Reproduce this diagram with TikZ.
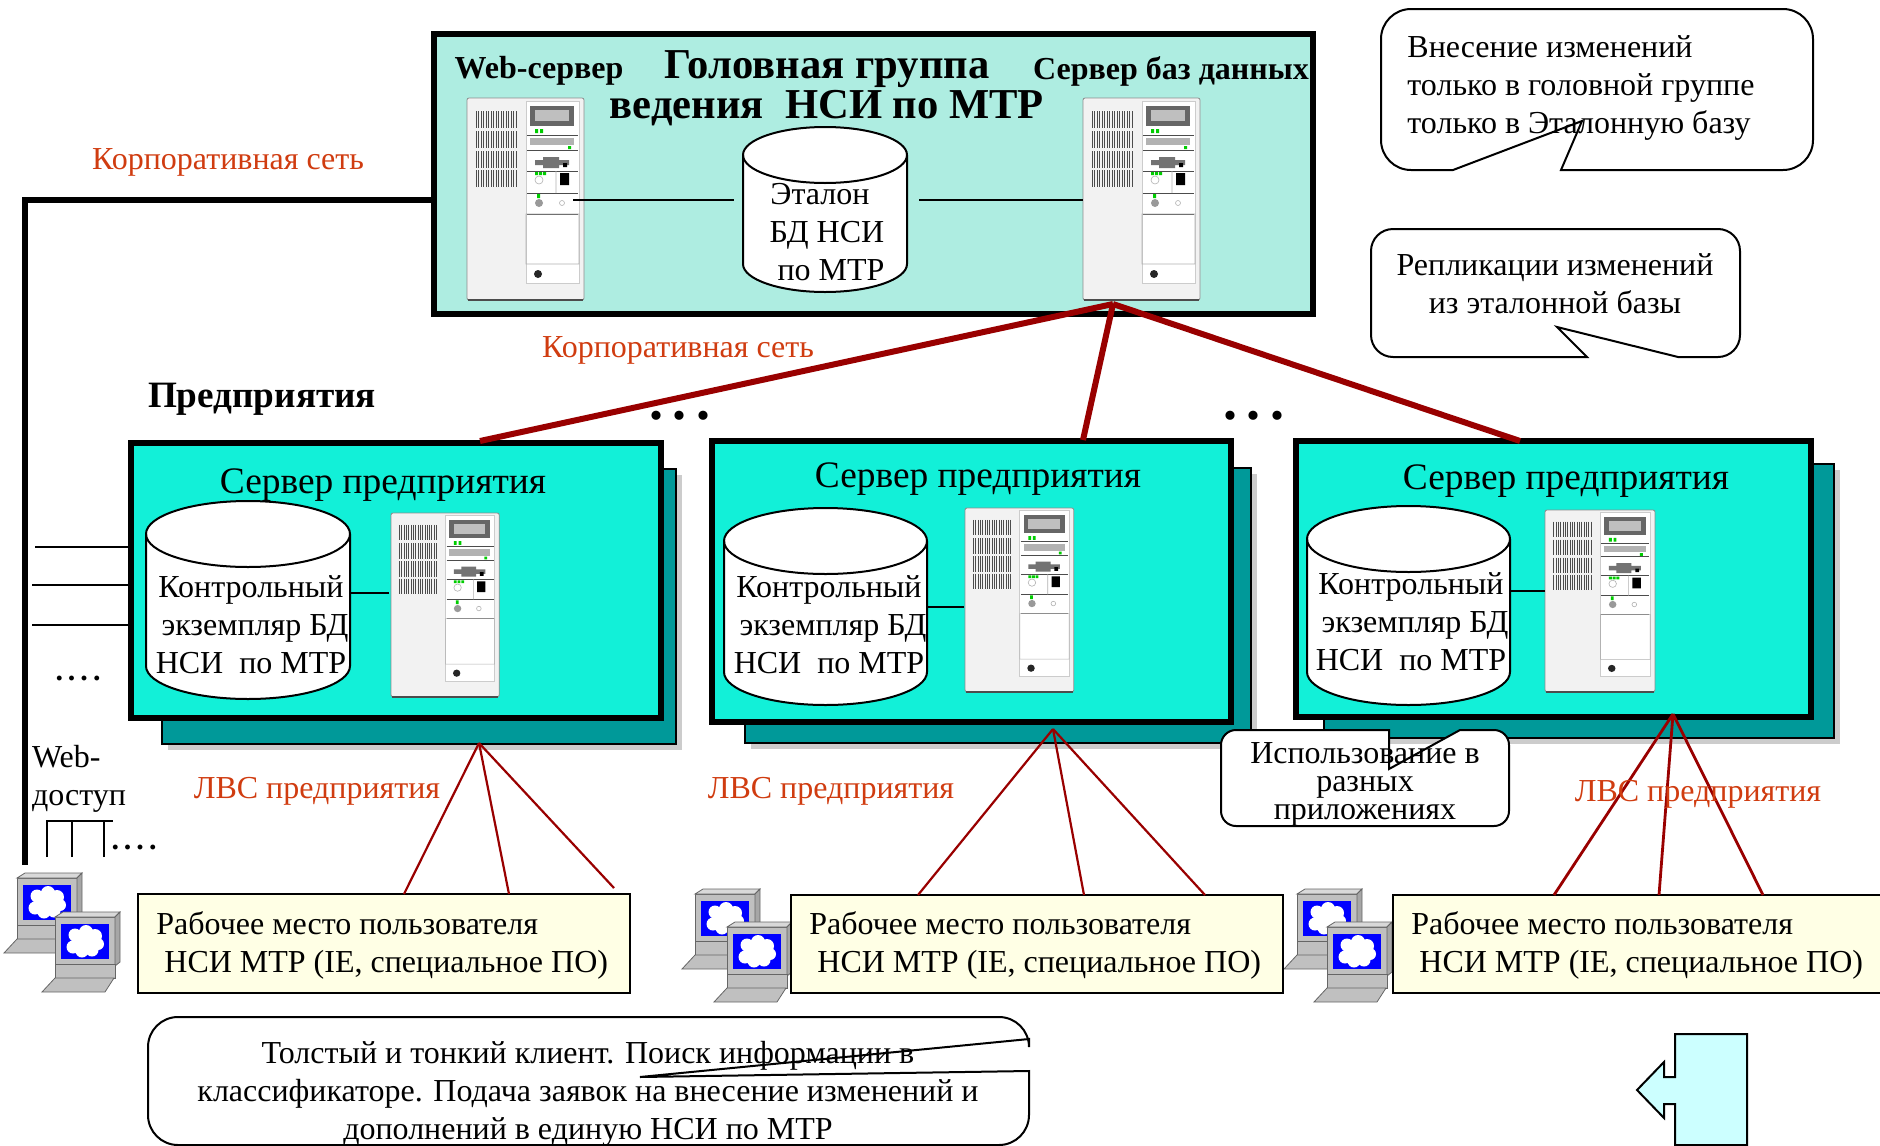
\documentclass[tikz,border=0pt]{standalone}
\usepackage{fontspec}
\setmainfont{Liberation Serif}
\usetikzlibrary{shadows}
\definecolor{headfill}{RGB}{174,237,225}
\definecolor{sitefill}{RGB}{18,240,216}
\definecolor{sitedark}{RGB}{0,153,153}
\definecolor{userfill}{RGB}{255,255,229}
\definecolor{netred}{RGB}{153,0,0}
\definecolor{labelred}{RGB}{208,60,16}
\definecolor{arrowfill}{RGB}{204,255,255}
\definecolor{pcgray}{RGB}{192,192,192}
\tikzset{%
    txt/.style={inner sep=0pt,align=center,font=\fontsize{16}{19}\selectfont},
    netlabel/.style={txt,text=labelred},
    headtxt/.style={txt,font=\fontsize{16}{18}\bfseries\selectfont},
    dotstxt/.style={txt,font=\fontsize{28}{28}\bfseries\selectfont},
    sitebox/.style={draw=black,line width=2.8pt,fill=sitefill,inner sep=0pt,outer sep=0pt},
    backbox/.style={draw=black,line width=1pt,fill=sitedark,inner sep=0pt,outer sep=0pt,
        drop shadow={opacity=.4,shadow xshift=3pt,shadow yshift=-3pt}},
    userbox/.style={draw=black,line width=1.3pt,fill=userfill,inner sep=0pt,outer sep=0pt},
    bubble/.style={draw=black,line width=1pt},
    wire/.style={line width=1pt},
    trunk/.style={netred,line width=3pt},
    lan/.style={netred,line width=1.1pt}
}
% database drum: name, centre x, top y, bottom y, half width, end height
\newcommand{\drum}[6]{%
  \node[inner sep=0pt,outer sep=0pt,minimum width=#5pt,minimum height={(#4-#3)*.5pt}] (#1) at (#2,{(#3+#4)/2}) {};
  \draw[line width=1pt,fill=white] ({#2-#5},{#4-#6}) arc[start angle=180,end angle=360,x radius=#5*.5pt,y radius=#6*.5pt]
    -- ({#2+#5},{#3+#6}) arc[start angle=0,end angle=180,x radius=#5*.5pt,y radius=#6*.5pt] -- cycle;
  \draw[line width=1pt] ({#2-#5},{#3+#6}) arc[start angle=180,end angle=360,x radius=#5*.5pt,y radius=#6*.5pt];}
% rack server: x,y of top left corner, xscale, yscale
\newcommand{\rack}[3]{%
  \begin{scope}[shift={(#1)},xscale=#2,yscale=#3]
    \draw[black!45,line width=.4pt,fill=black!5,rounded corners=1pt] (0,0) rectangle (117,202);
    \draw[black!70,line width=1pt] (1,202)--(116,202);
    \foreach \ya/\yb in {13/30,33/50,53/70,72/89}
      \foreach \xv in {9,11.5,...,50}
        \draw[black!70,line width=.25pt] (\xv,\ya)--(\xv,\yb);
    \draw[black!20,line width=.5pt,fill=white] (59,3) rectangle (112,185);
    \fill[black!60] (63,8) rectangle (107,28);
    \fill[black!25] (68,12) rectangle (102,23);
    \fill[green!80!black] (68,31) rectangle (71,35) (73,31) rectangle (76,35) (101,48) rectangle (104,51)
      (68,74) rectangle (71,77) (72,74) rectangle (75,77) (76,74) rectangle (79,77) (70,96) rectangle (73,100);
    \foreach \ys in {37,52,73,95,116}
      \draw[black!70,line width=.5pt] (60,\ys)--(111,\ys);
    \fill[black!30] (63,40) rectangle (107,47);
    \fill[black!55] (68,62) rectangle (102,67) (76,59) rectangle (92,70);
    \fill[black] (93,75) rectangle (102,87) (96,65) rectangle (100,69);
    \draw[black!30,line width=.3pt] (72,82) circle (4) (89,73)--(89,95) (59,116) rectangle (112,166) (95,105) circle (2.5);
    \fill[black!40] (72,105) circle (4);
    \fill[black!85] (71,176) circle (4);
  \end{scope}}
% one workstation: x,y of top left corner
\newcommand{\pcunit}[1]{%
  \begin{scope}[shift={(#1)}]
    \draw[black!60,line width=.4pt,fill=pcgray] (13,5) rectangle (73,54);
    \draw[black!60,line width=.4pt,fill=black!15] (13,5)--(21,0)--(78,0)--(73,5)--cycle;
    \draw[black!60,line width=.4pt,fill=black!35] (73,5)--(78,0)--(78,50)--(73,54)--cycle;
    \fill[blue] (19,12) rectangle (67,47);
    \fill[white] (33,23) circle (6.5) (44,20) circle (7) (53,24) circle (7) (56,32) circle (6)
       (50,38) circle (6.5) (40,39) circle (6.5) (31,35) circle (6.5) (43,30) circle (10);
    \draw[black!60,line width=.4pt,fill=pcgray] (13,52) rectangle (73,66);
    \draw[black!60,line width=.4pt,fill=pcgray] (0,80)--(13,66)--(72,66)--(63,80)--cycle;
  \end{scope}}
\begin{document}
\begin{tikzpicture}[x=0.5pt,y=-0.5pt]
    \useasboundingbox (0,0) rectangle (1880,1146);
    % corporate network
    \node[draw=black,line width=2.8pt,fill=headfill,inner sep=0pt,outer sep=0pt,minimum width=439.5pt,minimum height=140pt] (head) at (873.5,174) {};
    \coordinate (webend) at (25,865);
    \coordinate (dbport) at (1083,200);
    \coordinate (webport) at (573,200);
    \draw[line width=3pt] (dbport-|head.west) -| (webend);
    \node[txt,font=\fontsize{21.3}{21}\bfseries\selectfont] (title) at (827,88) {Головная группа\\[-1pt]ведения\ \ НСИ по МТР};
    \node[headtxt] (webname) at (539,71) {Web-сервер};
    \node[headtxt] (dbname) at (1171,71) {Сервер баз данных};
    \rack{467,98}{1}{1}
    \rack{1083,98}{1}{1}
    \drum{etalon}{825}{127}{292}{82}{28}
    \node[txt] (etalontxt) at (827,232.5) {Эталон\hspace*{7pt}\\БД НСИ\\\ по МТР};
    \coordinate (etaL) at (734,200);
    \coordinate (etaR) at (919,200);
    \draw[wire] (webport)--(etaL);
    \draw[wire] (etaR)--(dbport);
    \node[netlabel] (corp1) at (228,162) {Корпоративная сеть};
    \node[netlabel] (corp2) at (678,350) {Корпоративная сеть};
    \node[headtxt,font=\fontsize{18.6}{20}\bfseries\selectfont] (plants) at (262,399) {Предприятия};
    % three plants
    \node[backbox,minimum width=257pt,minimum height=137.5pt] (backA) at (419,606.5) {};
    \node[sitebox,minimum width=265pt,minimum height=137.5pt] (siteA) at (396,580.5) {};
    \node[backbox,minimum width=253pt,minimum height=137.5pt] (backB) at (998,605.5) {};
    \node[sitebox,minimum width=259.5pt,minimum height=140.5pt] (siteB) at (971.5,581.5) {};
    \node[backbox,minimum width=255pt,minimum height=137pt] (backC) at (1579,601) {};
    \node[sitebox,minimum width=257.5pt,minimum height=138pt] (siteC) at (1553.5,579) {};
    \foreach \sx/\sy/\nm in {383/485.5/A,978/479.5/B,1566/481.5/C}
      \node[txt,font=\fontsize{18.7}{20}\selectfont] (srv\nm) at (\sx,\sy) {Сервер предприятия};
    \drum{drumA}{248}{501}{699}{102}{33}
    \drum{drumB}{825.5}{508}{705}{101.5}{33}
    \drum{drumC}{1408.5}{506}{705}{101.5}{33}
    \rack{391,513}{.925}{.91}
    \rack{965,508}{.93}{.91}
    \rack{1545,510}{.94}{.9}
    \coordinate (tapA) at (389,593);
    \coordinate (tapB) at (964,607);
    \coordinate (tapC) at (1545,591);
    \draw[wire] (tapA)--(tapA-|drumA.east);
    \draw[wire] (tapB)--(tapB-|drumB.east);
    \draw[wire] (tapC)--(tapC-|drumC.east);
    \foreach \tx/\ty/\nm in {251/625/A,829/625/B,1411/622/C}
      \node[txt] (ctl\nm) at (\tx,\ty) {Контрольный\\\ экземпляр БД\\НСИ\ \ по МТР};
    % backbone
    \coordinate (hub) at (1113,304);
    \coordinate (topA) at (480,441);
    \coordinate (topB) at (1083,440);
    \coordinate (topC) at (1520,441);
    \draw[trunk] (hub)--(topA);
    \draw[trunk] (hub)--(topB);
    \draw[trunk] (hub)--(topC);
    \node[dotstxt] (moreA) at (680,416) {.\,.\,.};
    \node[dotstxt] (moreB) at (1254,416) {.\,.\,.};
    % web access
    \coordinate (stubA) at (35,547);
    \coordinate (stubB) at (32,585);
    \coordinate (stubC) at (32,625);
    \draw[wire] (stubA)--(stubA-|siteA.west);
    \draw[wire] (stubB)--(stubB-|siteA.west);
    \draw[wire] (stubC)--(stubC-|siteA.west);
    \node[txt,font=\fontsize{15}{19}\bfseries\selectfont] (moreC) at (78,678) {.\,.\,.\,.};
    \node[txt,align=left] (webacc) at (79,779) {Web-\\доступ};
    \coordinate (combA) at (47,821);
    \coordinate (combB) at (72,857);
    \coordinate (combC) at (104,857);
    \coordinate (combD) at (113,821);
    \coordinate (combE) at (47,857);
    \draw[wire] (combE)--(combA)--(combD);
    \draw[wire] (combB)--(combB|-combA);
    \draw[wire] (combC)--(combC|-combA);
    \node[txt,font=\fontsize{15}{19}\bfseries\selectfont] (moreD) at (134,847) {.\,.\,.\,.};
    % workplaces
    \foreach \px/\qx/\py/\qy in {4/42/873/912,682/714/889/922,1284/1314/889/922}{
      \pcunit{\px,\py}
      \pcunit{\qx,\qy}
    }
    \node[userbox,minimum width=246pt,minimum height=49.5pt] (userA) at (384,943.5) {};
    \node[userbox,minimum width=246pt,minimum height=49pt] (userB) at (1037,944) {};
    \node[userbox,minimum width=250pt,minimum height=49pt] (userC) at (1643,944) {};
    \foreach \ux/\nm in {156/A,809/B,1411/C}
      \node[txt,align=left,anchor=west] (ws\nm) at (\ux,945) {Рабочее место пользователя\\\ НСИ МТР (IE, специальное ПО)};
    \coordinate (lanA) at (479,743);
    \coordinate (lanAx) at (614,888);
    \coordinate (lanB) at (1053,729);
    \coordinate (lanC) at (1673,714);
    \draw[lan] (lanA)--(404,894|-userA.north);
    \draw[lan] (lanA)--(509,894|-userA.north);
    \draw[lan] (lanA)--(lanAx);
    \draw[lan] (lanB)--(918,895|-userB.north);
    \draw[lan] (lanB)--(1084,895|-userB.north);
    \draw[lan] (lanB)--(1205,895|-userB.north);
    \draw[lan,line width=1.4pt] (lanC)--(1554,895|-userC.north);
    \draw[lan,line width=1.4pt] (lanC)--(1659,895|-userC.north);
    \draw[lan,line width=1.4pt] (lanC)--(1763,895|-userC.north);
    \node[netlabel] (lblA) at (317,791) {ЛВС предприятия};
    \node[netlabel] (lblB) at (831,791) {ЛВС предприятия};
    \node[netlabel] (lblC) at (1698,794) {ЛВС предприятия};
    % callouts
    \draw[bubble] (1453,170) [rounded corners=15pt] -- (1381,170) -- (1381,9) -- (1813,9) -- (1813,170) [sharp corners] -- (1561,170) -- (1582,121) -- cycle;
    \node[txt,align=left,anchor=west] (noteA) at (1407,88) {Внесение изменений\\только в головной группе\\только в Эталонную базу};
    \draw[bubble] (1587,357) [rounded corners=11pt] -- (1371,357) -- (1371,229) -- (1740,229) -- (1740,357) [sharp corners] -- (1678,357) -- (1557,327) -- cycle;
    \node[txt] (noteB) at (1555,284) {Репликации изменений\\из эталонной базы};
    \draw[bubble,fill=white] (1389,730) [rounded corners=7.5pt] -- (1221,730) -- (1221,826) -- (1509,826) -- (1509,730) [sharp corners] -- (1460,730) -- (1389,769) -- cycle;
    \node[txt,font=\fontsize{16}{14}\selectfont] (noteC) at (1365,784) {Использование в\\разных\\приложениях};
    \draw[bubble] (1029,1039) [rounded corners=15pt] -- (1029,1017) -- (148,1017) -- (148,1145) -- (1029,1145) [sharp corners] -- (1029,1071) -- (640,1077) -- cycle;
    \node[txt] (noteD) at (588,1094) {Толстый и тонкий клиент. Поиск информации в\\классификаторе. Подача заявок на внесение изменений и\\дополнений в единую НСИ по МТР};
    % block arrow
    \draw[black,line width=1pt,fill=arrowfill] (1675,1034)--(1747,1034)--(1747,1145)--(1675,1145)--(1675,1104)--(1664,1104)--(1664,1118)--(1637,1090)--(1664,1062)--(1664,1077)--(1675,1077)--cycle;
\end{tikzpicture}
\end{document}
